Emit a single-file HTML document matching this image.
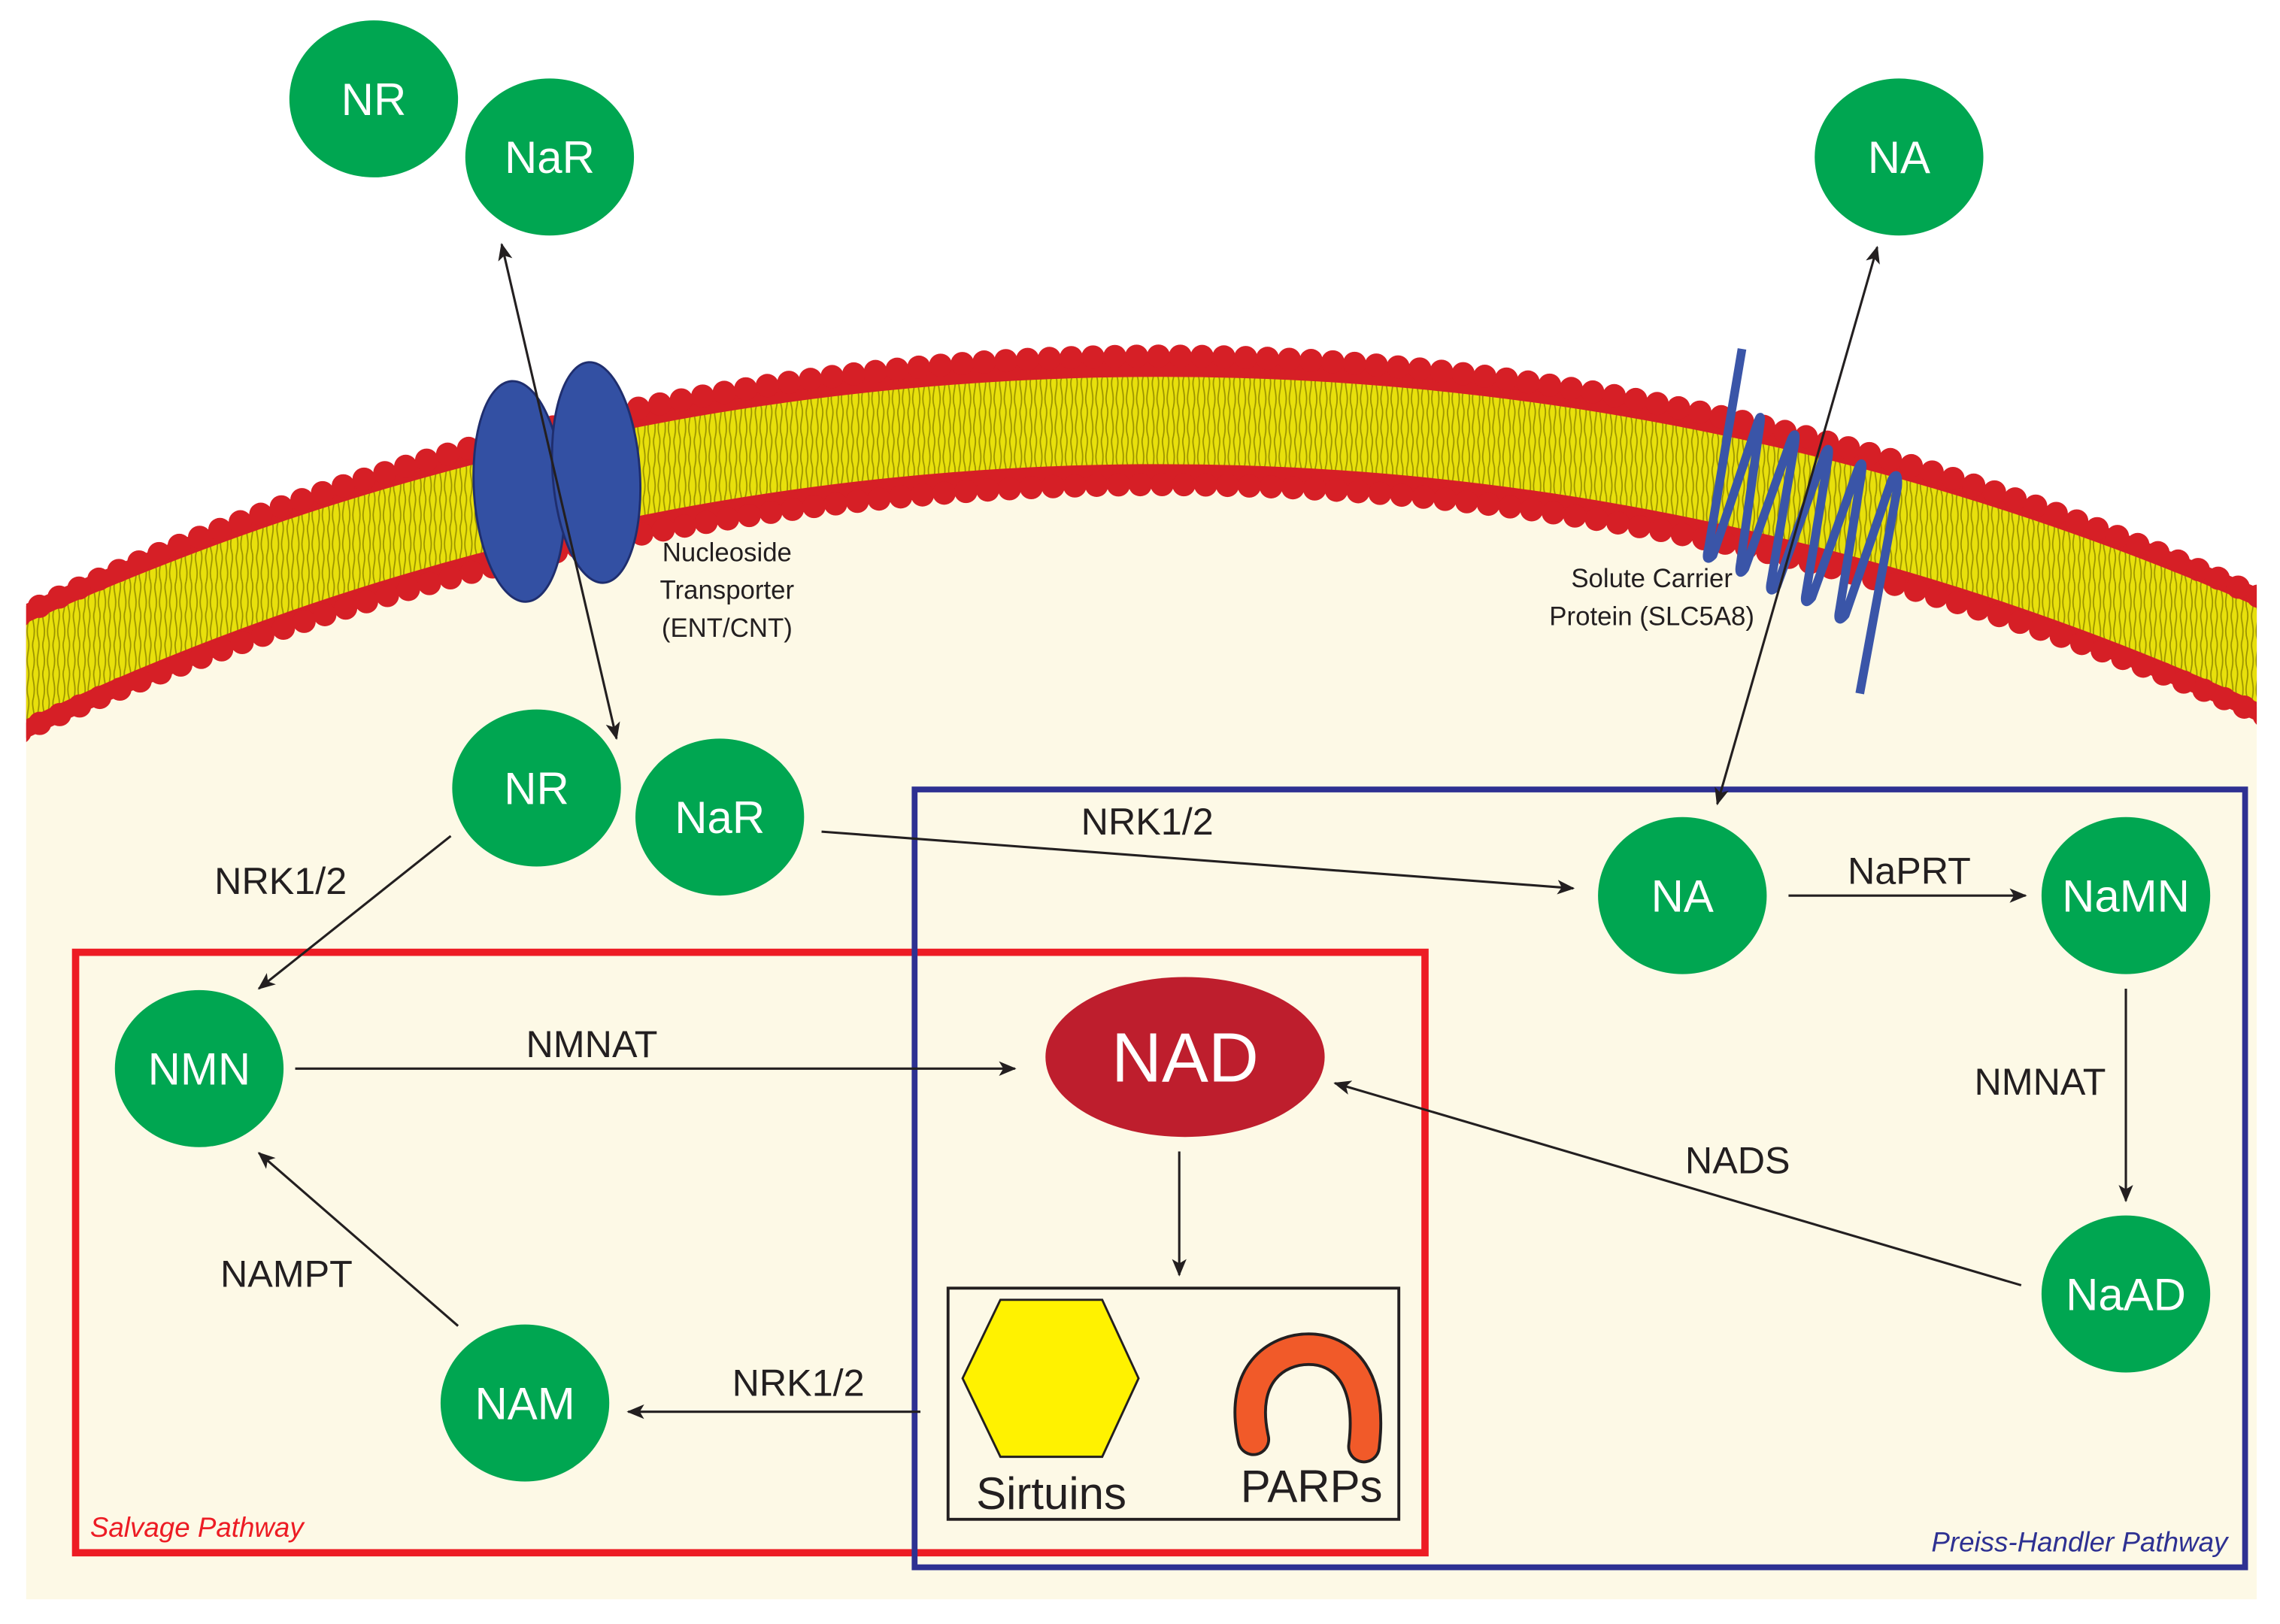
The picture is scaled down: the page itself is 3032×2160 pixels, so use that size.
<!DOCTYPE html>
<html><head><meta charset="utf-8"><style>
html,body{margin:0;padding:0;background:#fff;}
svg{display:block}
text{font-family:"Liberation Sans",sans-serif;}
</style></head><body>
<svg width="3032" height="2160" viewBox="0 0 1568 1117" preserveAspectRatio="none" xmlns="http://www.w3.org/2000/svg">
<defs>
<marker id="a" viewBox="0 0 12 10" refX="11" refY="5" markerWidth="12" markerHeight="10" markerUnits="userSpaceOnUse" orient="auto-start-reverse">
<path d="M0,0 L12,5 L0,10 L3,5 Z" fill="#231f20"/></marker>
<pattern id="lip" width="7" height="20" patternUnits="userSpaceOnUse">
<rect width="7" height="20" fill="#e8e00c"/>
<path d="M2,0 C0,6 4,10 2,20 M5.5,0 C7,7 3,12 5.5,20" stroke="#9a9200" stroke-width="0.9" fill="none"/>
</pattern>
<clipPath id="c"><rect x="18" y="0" width="1534" height="1117"/></clipPath>
</defs>
<!-- cell interior -->
<path d="M18,502 A1851,1851 0 0 1 1552,492 L1552,1100 L18,1100 Z" fill="#fdf9e6"/>
<!-- membrane -->
<g clip-path="url(#c)">
<path d="M0,470 A1851,1851 0 0 1 1570,458" stroke="#d61f26" stroke-width="84" fill="none"/>
<path d="M0,470 A1851,1851 0 0 1 1570,458" stroke="url(#lip)" stroke-width="60" fill="none"/>
<path d="M0,430 A1811,1811 0 0 1 1570,418" stroke="#d61f26" stroke-width="16" stroke-dasharray="0 15" stroke-linecap="round" fill="none"/>
<path d="M0,510 A1891,1891 0 0 1 1570,498" stroke="#d61f26" stroke-width="16" stroke-dasharray="0 15" stroke-linecap="round" fill="none"/>
</g>
<!-- nucleoside transporter -->
<ellipse cx="357" cy="338" rx="31" ry="76" fill="#3350a3" stroke="#1f2e6e" stroke-width="1.5" transform="rotate(-4 357 338)"/>
<ellipse cx="410" cy="325" rx="30" ry="76" fill="#3350a3" stroke="#1f2e6e" stroke-width="1.5" transform="rotate(-4 410 325)"/>
<!-- SLC5A8 coil -->
<path d="M1198,240 L1175,377 Q1172,388 1178,382 L1209,290 Q1212,282 1210,295 L1197,387 Q1195,398 1200,391 L1232,302 Q1236,294 1234,307 L1218,400 Q1216,410 1222,403 L1255,312 Q1259,304 1257,317 L1242,408 Q1240,418 1246,411 L1278,322 Q1282,314 1280,327 L1265,420 Q1263,430 1269,423 L1301,330 Q1306,322 1305,335 L1279,477" stroke="#3a55a8" stroke-width="6" fill="none" stroke-linejoin="round"/>
<!-- boxes -->
<rect x="52" y="655" width="928" height="413" fill="none" stroke="#ed1c24" stroke-width="5"/>
<rect x="629" y="543" width="915" height="535" fill="none" stroke="#2e3192" stroke-width="4"/>
<rect x="652" y="886" width="310" height="159" fill="none" stroke="#231f20" stroke-width="2"/>
<!-- arrows -->
<g stroke="#231f20" stroke-width="1.6" fill="none">
<line x1="345" y1="168" x2="424" y2="508" marker-start="url(#a)" marker-end="url(#a)"/>
<line x1="1291" y1="170" x2="1181" y2="553" marker-start="url(#a)" marker-end="url(#a)"/>
<line x1="310" y1="575" x2="178" y2="680" marker-end="url(#a)"/>
<line x1="565" y1="572" x2="1082" y2="611" marker-end="url(#a)"/>
<line x1="1230" y1="616" x2="1393" y2="616" marker-end="url(#a)"/>
<line x1="203" y1="735" x2="698" y2="735" marker-end="url(#a)"/>
<line x1="1462" y1="680" x2="1462" y2="826" marker-end="url(#a)"/>
<line x1="1390" y1="884" x2="918" y2="745" marker-end="url(#a)"/>
<line x1="811" y1="792" x2="811" y2="877" marker-end="url(#a)"/>
<line x1="633" y1="971" x2="432" y2="971" marker-end="url(#a)"/>
<line x1="315" y1="912" x2="178" y2="793" marker-end="url(#a)"/>
</g>
<!-- nodes -->
<g fill="#00a651">
<ellipse cx="257" cy="68" rx="58" ry="54"/>
<ellipse cx="378" cy="108" rx="58" ry="54"/>
<ellipse cx="1306" cy="108" rx="58" ry="54"/>
<ellipse cx="369" cy="542" rx="58" ry="54"/>
<ellipse cx="495" cy="562" rx="58" ry="54"/>
<ellipse cx="1157" cy="616" rx="58" ry="54"/>
<ellipse cx="1462" cy="616" rx="58" ry="54"/>
<ellipse cx="137" cy="735" rx="58" ry="54"/>
<ellipse cx="361" cy="965" rx="58" ry="54"/>
<ellipse cx="1462" cy="890" rx="58" ry="54"/>
</g>
<ellipse cx="815" cy="727" rx="96" ry="55" fill="#be1e2d"/>
<g fill="#fff" font-size="31" text-anchor="middle">
<text x="257" y="79">NR</text>
<text x="378" y="119">NaR</text>
<text x="1306" y="119">NA</text>
<text x="369" y="553">NR</text>
<text x="495" y="573">NaR</text>
<text x="1157" y="627">NA</text>
<text x="1462" y="627">NaMN</text>
<text x="137" y="746">NMN</text>
<text x="361" y="976">NAM</text>
<text x="1462" y="901">NaAD</text>
<text x="815" y="744" font-size="48">NAD</text>
</g>
<!-- sirtuins / parps -->
<polygon points="662,948 688,894 758,894 783,948 758,1002 688,1002" fill="#fff200" stroke="#231f20" stroke-width="1.5"/>
<path d="M862,990 C852,945 878,928 900,928 C924,928 944,948 938,995" stroke="#231f20" stroke-width="23" fill="none" stroke-linecap="round"/>
<path d="M862,990 C852,945 878,928 900,928 C924,928 944,948 938,995" stroke="#f15a29" stroke-width="19" fill="none" stroke-linecap="round"/>
<g fill="#231f20" text-anchor="middle">
<text x="723" y="1038" font-size="31">Sirtuins</text>
<text x="902" y="1033" font-size="31">PARPs</text>
<g font-size="26">
<text x="193" y="615">NRK1/2</text>
<text x="789" y="574">NRK1/2</text>
<text x="1313" y="608">NaPRT</text>
<text x="407" y="727">NMNAT</text>
<text x="1403" y="753">NMNAT</text>
<text x="1195" y="807">NADS</text>
<text x="197" y="885">NAMPT</text>
<text x="549" y="960">NRK1/2</text>
</g>
<g font-size="18">
<text x="500" y="386">Nucleoside</text>
<text x="500" y="412">Transporter</text>
<text x="500" y="438">(ENT/CNT)</text>
<text x="1136" y="404">Solute Carrier</text>
<text x="1136" y="430">Protein (SLC5A8)</text>
</g>
</g>
<text x="62" y="1057" font-size="19" font-style="italic" fill="#ed1c24">Salvage Pathway</text>
<text x="1532" y="1067" font-size="19" font-style="italic" fill="#2e3192" text-anchor="end">Preiss-Handler Pathway</text>
</svg>
</body></html>
